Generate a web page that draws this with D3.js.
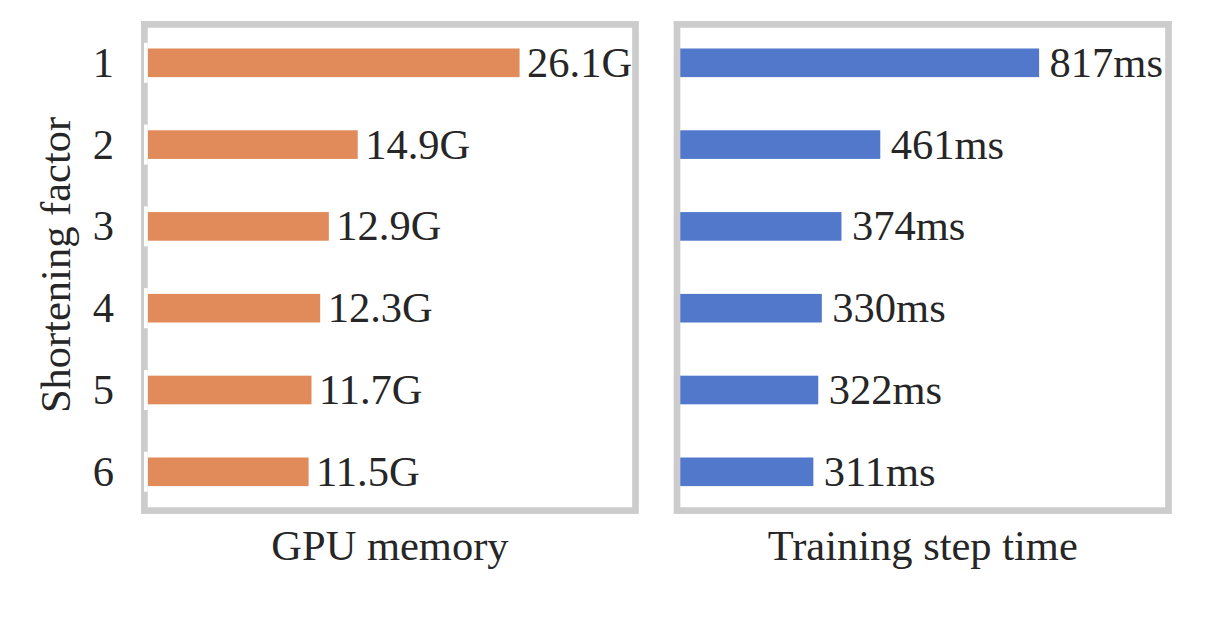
<!DOCTYPE html>
<html>
<head>
<meta charset="utf-8">
<script src="https://cdn.jsdelivr.net/npm/d3@7"></script>
<style>
  html, body { margin: 0; padding: 0; background: #ffffff; }
  svg { display: block; }
  text { font-family: "Liberation Serif", "Times New Roman", serif; fill: #262626; }
</style>
</head>
<body>
<svg id="chart" width="1210" height="622"></svg>
<script>
// ---- data ----
const categories = ["1", "2", "3", "4", "5", "6"];
const memoryValues = [26.1, 14.9, 12.9, 12.3, 11.7, 11.5];
const memoryLabels = ["26.1G", "14.9G", "12.9G", "12.3G", "11.7G", "11.5G"];
const stepTimeValues = [817, 461, 374, 330, 322, 311];
const stepTimeLabels = ["817ms", "461ms", "374ms", "330ms", "322ms", "311ms"];
const panelTitles = ["GPU memory", "Training step time"];
const yAxisTitle = "Shortening factor";

// ---- layout ----
const W = 1210, H = 622;
const FONT = 42.5;
const TITLE_FONT = 42.5;
const spineColor = "#cccccc";
const spineW = 6.7;
const frameTop = 24.4, frameBottom = 510.6;

const panels = [
  { values: memoryValues, labels: memoryLabels, title: panelTitles[0],
    color: "#e08b59", xMax: 34.12, x0: 142.4, left: 144.4, right: 635.5,
    labelGap: 7.5, whiteTick: true },
  { values: stepTimeValues, labels: stepTimeLabels, title: panelTitles[1],
    color: "#5278cc", xMax: 1107, x0: 674.6, left: 677, right: 1168.5,
    labelGap: 10.5, whiteTick: false }
];

const svg = d3.select("#chart");

const y = d3.scaleBand()
  .domain(categories)
  .range([21.9, 512.7])
  .paddingInner(0)
  .paddingOuter(0);
const barH = y.bandwidth() * 0.35;

panels.forEach((p, pi) => {
  const x = d3.scaleLinear().domain([0, p.xMax]).range([p.x0, p.right]);
  const g = svg.append("g");

  // bars
  g.selectAll("rect.bar")
    .data(p.values)
    .enter().append("rect")
    .attr("class", "bar")
    .attr("x", x(0))
    .attr("y", (d, i) => y(categories[i]) + y.bandwidth() / 2 - barH / 2)
    .attr("width", d => x(d) - x(0))
    .attr("height", barH)
    .attr("fill", p.color);

  // frame (spines)
  g.append("rect")
    .attr("x", p.left)
    .attr("y", frameTop)
    .attr("width", p.right - p.left)
    .attr("height", frameBottom - frameTop)
    .attr("fill", "none")
    .attr("stroke", spineColor)
    .attr("stroke-width", spineW);

  // white tick marks on left spine
  if (p.whiteTick) {
    g.selectAll("rect.wt")
      .data(categories)
      .enter().append("rect")
      .attr("class", "wt")
      .attr("x", p.left - 0.4)
      .attr("y", d => y(d) + y.bandwidth() / 2 - 20)
      .attr("width", spineW / 2 + 0.4)
      .attr("height", 40)
      .attr("fill", "#ffffff");
  }

  // value labels
  g.selectAll("text.val")
    .data(p.values)
    .enter().append("text")
    .attr("class", "val")
    .attr("x", d => x(d) + p.labelGap)
    .attr("y", (d, i) => y(categories[i]) + y.bandwidth() / 2)
    .attr("dy", "0.33em")
    .attr("font-size", FONT)
    .text((d, i) => p.labels[i]);

  // panel x title
  g.append("text")
    .attr("x", (p.left + p.right) / 2)
    .attr("y", 559.5)
    .attr("text-anchor", "middle")
    .attr("font-size", TITLE_FONT)
    .text(p.title);

  // y axis on first panel
  if (pi === 0) {
    const ax = svg.append("g")
      .attr("transform", `translate(${p.left},0)`)
      .call(d3.axisLeft(y).tickSize(0).tickPadding(30.4));
    ax.select(".domain").remove();
    ax.selectAll("text")
      .attr("font-size", FONT)
      .attr("font-family", "Liberation Serif, Times New Roman, serif")
      .attr("fill", "#262626")
      .attr("dy", "0.33em");
  }
});

// y axis title
svg.append("text")
  .attr("transform", "translate(70,265) rotate(-90)")
  .attr("text-anchor", "middle")
  .attr("font-size", TITLE_FONT)
  .text(yAxisTitle);
</script>
</body>
</html>
